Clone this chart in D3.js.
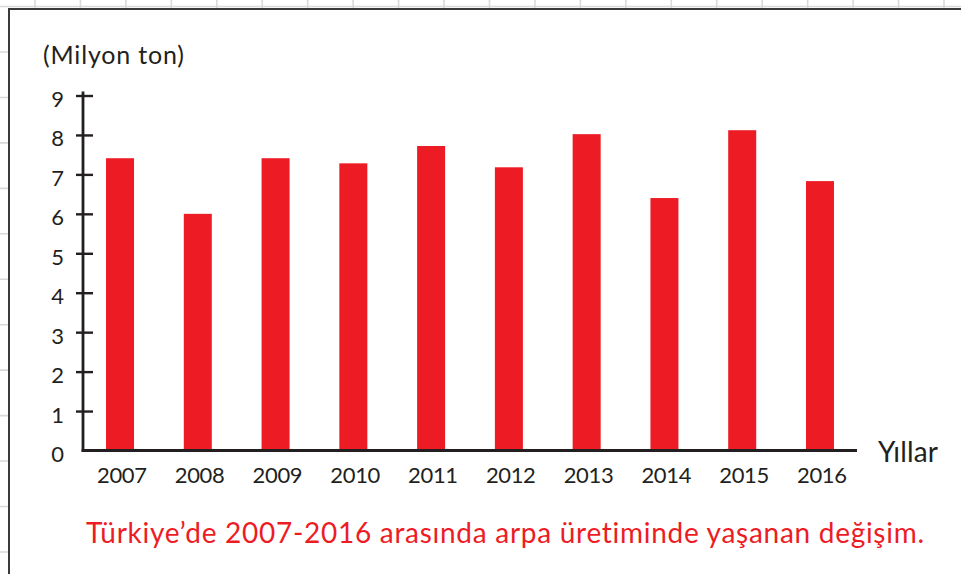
<!DOCTYPE html>
<html>
<head>
<meta charset="utf-8">
<script src="https://cdn.jsdelivr.net/npm/d3@7"></script>
<style>
  html, body { margin: 0; padding: 0; background: #fff; }
  svg { display: block; }
  text { font-family: Lato, "Noto Sans", sans-serif; font-variant-ligatures: none; }
</style>
</head>
<body>
<svg id="chart" width="961" height="574"></svg>
<script>
// Barley production in Turkey, million tonnes
const years = ["2007", "2008", "2009", "2010", "2011", "2012", "2013", "2014", "2015", "2016"];
const production = [7.41, 6.0, 7.41, 7.28, 7.72, 7.18, 8.02, 6.4, 8.12, 6.83];
const yTicks = [0, 1, 2, 3, 4, 5, 6, 7, 8, 9];

const yUnit = "(Milyon ton)";
const xUnit = "Yıllar";
const caption = "Türkiye’de 2007-2016 arasında arpa üretiminde yaşanan değişim.";

const W = 961, H = 574;
const ink = "#231f20";
const red = "#ed1c24";

const svg = d3.select("#chart");

// squared paper behind the card
const gridStep = 45.45;
const grid = svg.append("g").attr("stroke", "#d9d9d9").attr("stroke-width", 1.6);
grid.selectAll("line.v")
  .data(d3.range(35, W, gridStep))
  .join("line").attr("class", "v")
  .attr("x1", d => d).attr("x2", d => d).attr("y1", 0).attr("y2", H);
grid.selectAll("line.h")
  .data(d3.range(52 - gridStep, H, gridStep))
  .join("line").attr("class", "h")
  .attr("x1", 0).attr("x2", W).attr("y1", d => d).attr("y2", d => d);

// white card
svg.append("rect")
  .attr("x", 9).attr("y", 9).attr("width", W + 20).attr("height", H + 20)
  .attr("fill", "#fff").attr("stroke", "#3a3a3a").attr("stroke-width", 2);

// scales
const axisX = 83, baseY = 450.5;
const x = d3.scaleBand()
  .domain(years)
  .range([axisX, 857])
  .paddingInner(0.64)
  .paddingOuter(0.296);
const y = d3.scaleLinear().domain([0, 9]).range([baseY, 95.5]);

// bars
svg.append("g").selectAll("rect")
  .data(years)
  .join("rect")
  .attr("x", d => x(d))
  .attr("width", x.bandwidth())
  .attr("y", (d, i) => y(production[i]))
  .attr("height", (d, i) => y(0) - y(production[i]))
  .attr("fill", red);

// y axis
const yAxis = svg.append("g")
  .attr("transform", `translate(${axisX},0)`)
  .call(d3.axisLeft(y).tickValues(yTicks).tickFormat(d3.format("d")).tickSize(7));
yAxis.select(".domain").remove();
yAxis.selectAll(".tick line")
  .attr("x1", -7).attr("x2", 10)
  .attr("stroke", ink).attr("stroke-width", 2.4);
yAxis.selectAll(".tick text")
  .attr("x", -19).attr("dy", "0.5em")
  .attr("fill", ink).style("font-size", "22px").style("text-anchor", "end");
yAxis.selectAll(".tick").filter(d => d === 0).select("line").remove();
svg.append("line")
  .attr("x1", axisX).attr("x2", axisX)
  .attr("y1", y(9) - 4).attr("y2", baseY + 1.5)
  .attr("stroke", ink).attr("stroke-width", 2.8);

// x axis
const xAxis = svg.append("g")
  .attr("transform", `translate(0,${baseY})`)
  .call(d3.axisBottom(x).tickSize(0).tickPadding(0));
xAxis.select(".domain").remove();
xAxis.selectAll(".tick text")
  .attr("y", 0).attr("dy", 32).attr("x", 2)
  .attr("fill", ink).style("font-size", "22px")
  .attr("textLength", 50).attr("lengthAdjust", "spacing");
svg.append("line")
  .attr("x1", axisX - 1.4).attr("x2", 857)
  .attr("y1", baseY).attr("y2", baseY)
  .attr("stroke", ink).attr("stroke-width", 3);

// axis titles
svg.append("text")
  .attr("x", 43).attr("y", 64)
  .attr("fill", ink).style("font-size", "25px")
  .attr("textLength", 141).attr("lengthAdjust", "spacing")
  .text(yUnit);
svg.append("text")
  .attr("x", 878).attr("y", 462)
  .attr("fill", ink).style("font-size", "28px")
  .attr("textLength", 60).attr("lengthAdjust", "spacing")
  .text(xUnit);

// caption
svg.append("text")
  .attr("x", 505).attr("y", 543)
  .attr("text-anchor", "middle")
  .attr("fill", red).style("font-size", "28px")
  .attr("textLength", 838).attr("lengthAdjust", "spacing")
  .text(caption);
</script>
</body>
</html>
